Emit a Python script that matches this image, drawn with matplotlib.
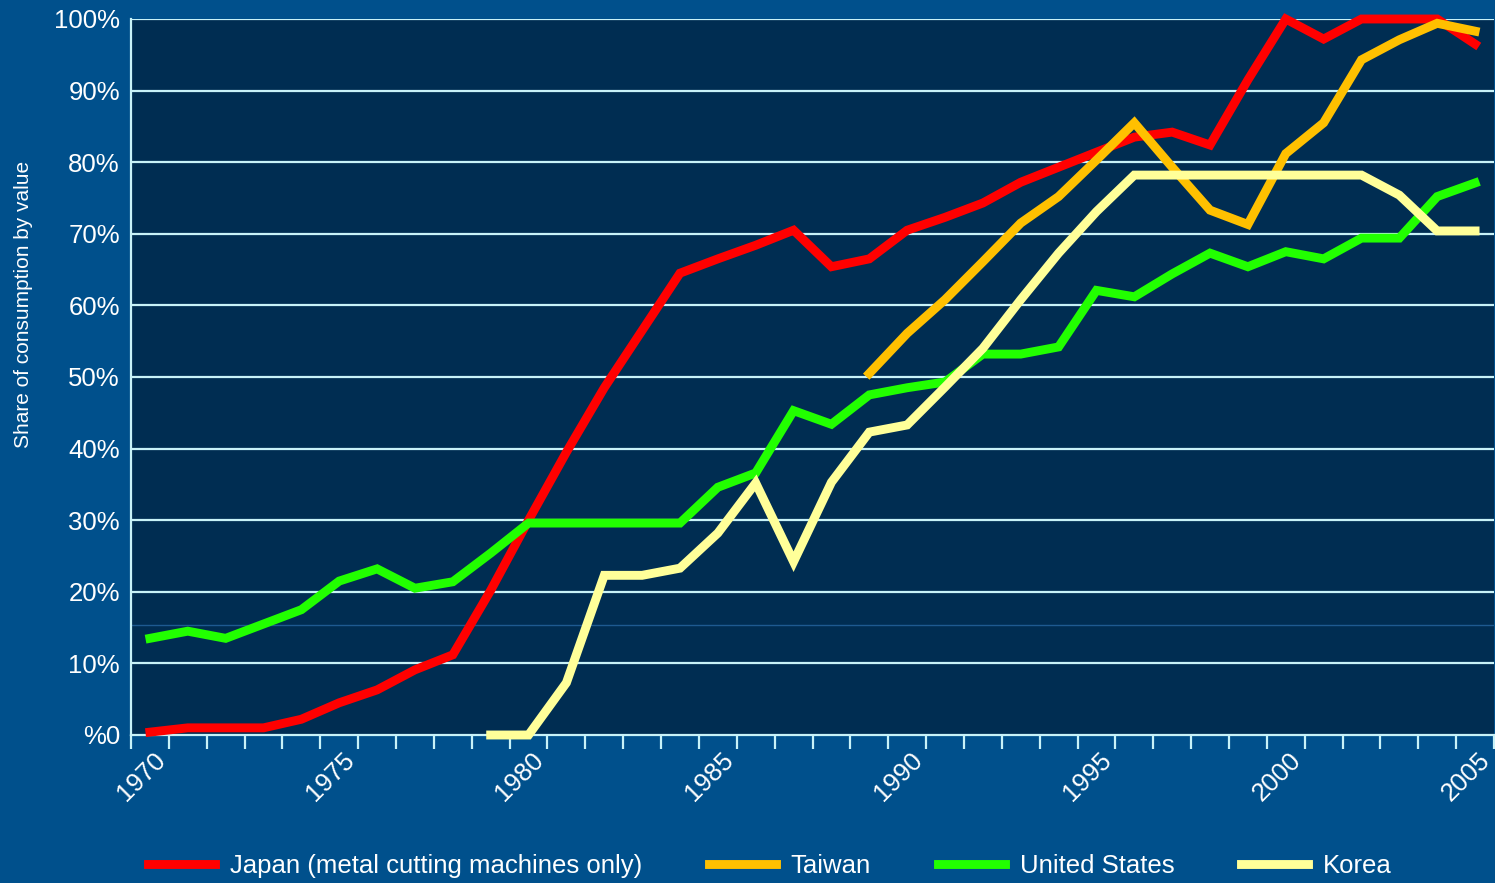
import numpy as np
import matplotlib
matplotlib.use('Agg')
import matplotlib.pyplot as plt
from matplotlib.lines import Line2D

plt.rcParams['font.family'] = ['Liberation Sans', 'DejaVu Sans']

# Share of consumption by value (%), one value per year
years_japan = list(range(1970, 2006))
japan = [0.4, 1, 1, 1, 2.2, 4.5, 6.3, 9.1, 11.2, 20.2, 30, 39.5, 48.5, 56.5, 64.5,
         66.5, 68.4, 70.5, 65.4, 66.5, 70.5, 72.3, 74.3, 77.2, 79.3, 81.4, 83.5, 84.2,
         82.4, 91.5, 100, 97.2, 100, 100, 100, 96.5]

years_taiwan = list(range(1989, 2006))
taiwan = [50.5, 56.1, 60.8, 66.1, 71.5, 75.2, 80.3, 85.5, 79.3, 73.3, 71.3, 81.2,
          85.5, 94.3, 97.1, 99.4, 98.3]

years_us = list(range(1970, 2006))
us = [13.5, 14.5, 13.5, 15.5, 17.5, 21.5, 23.2, 20.5, 21.4, 25.4, 29.6, 29.6, 29.6,
      29.6, 29.6, 34.6, 36.6, 45.3, 43.4, 47.5, 48.5, 49.3, 53.2, 53.2, 54.2, 62.1,
      61.2, 64.4, 67.3, 65.4, 67.5, 66.5, 69.4, 69.4, 75.2, 77.1]

years_korea = list(range(1979, 2006))
korea = [0, 0, 7.3, 22.3, 22.3, 23.3, 28.2, 35.2, 24.2, 35.3, 42.3, 43.3, 48.6, 54,
         60.8, 67.3, 73.1, 78.2, 78.2, 78.2, 78.2, 78.2, 78.2, 78.2, 75.4, 70.4, 70.4]

series_names = ['Japan (metal cutting machines only)', 'Taiwan', 'United States', 'Korea']
colors = ['#ff0000', '#ffc000', '#22ff00', '#ffff99']

label_years = list(range(1970, 2006, 5))
ytick_vals = list(range(0, 101, 10))
ytick_labels = ['%0'] + ['%d%%' % v for v in ytick_vals[1:]]

outer_bg = '#00508c'
plot_bg = '#002d52'
grid_col = '#c8f2f8'

fig = plt.figure(figsize=(14.95, 8.83), dpi=100)
fig.patch.set_facecolor(outer_bg)
ax = fig.add_axes([131 / 1495, 1 - 735 / 883, 1363 / 1495, 716 / 883])
ax.set_facecolor(plot_bg)

# horizontal grid
for v in ytick_vals[1:]:
    ax.axhline(v, color=grid_col, lw=1.6, zorder=1)
ax.axhline(15.4, color='#1e5a90', lw=1.0, zorder=1)

lw = 6.4
ax.plot(years_japan, japan, color=colors[0], lw=lw, zorder=3, clip_on=False, solid_joinstyle='miter')
ax.plot(years_taiwan, taiwan, color=colors[1], lw=lw, zorder=3, clip_on=False, solid_joinstyle='miter')
ax.plot(years_us, us, color=colors[2], lw=lw, zorder=3, clip_on=False, solid_joinstyle='miter')
ax.plot(years_korea, korea, color=colors[3], lw=lw, zorder=3, clip_on=False, solid_joinstyle='miter')

ax.set_xlim(1969.5, 2005.5)
ax.set_ylim(0, 100)

# spines
for s in ['top', 'right']:
    ax.spines[s].set_visible(False)
ax.spines['left'].set_color(grid_col)
ax.spines['bottom'].set_color(grid_col)
ax.spines['left'].set_linewidth(1.6)
ax.spines['bottom'].set_linewidth(1.6)

# category boundary ticks
ax.set_xticks(np.arange(1969.5, 2006, 1))
ax.set_xticklabels([])
ax.tick_params(axis='x', direction='out', length=10, width=1.6, color=grid_col)
for yr in label_years:
    ax.text(yr + 0.08, -1.85, str(yr), rotation=45, rotation_mode='anchor',
            ha='right', va='top', fontsize=18.5, color='white')

ax.set_yticks(ytick_vals)
ax.set_yticklabels(ytick_labels, fontsize=18.5, color='white')
ax.tick_params(axis='y', length=0, pad=8)

fig.text(24 / 1495, 1 - 304 / 883, 'Share of consumption by value', rotation=90,
         ha='center', va='center', fontsize=15, color='white')

handles = [Line2D([0], [0], color=c, lw=lw) for c in colors]
fig.legend(handles, series_names, loc='center', bbox_to_anchor=(0.515, 1 - 866 / 883),
           ncol=4, frameon=False, fontsize=18.5, labelcolor='white',
           handlelength=2.6, handletextpad=0.58, columnspacing=2.6)

fig.savefig('out.png', dpi=100, facecolor=outer_bg)
